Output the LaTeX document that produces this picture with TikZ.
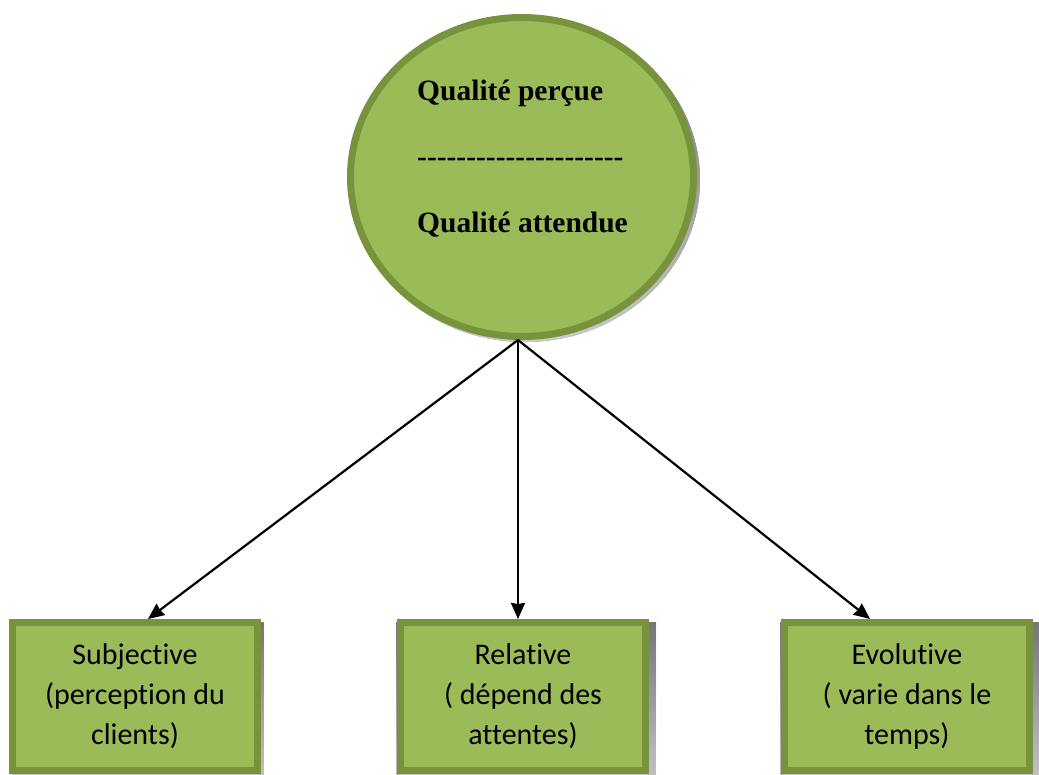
\documentclass[tikz,border=0pt]{standalone}
\usepackage{fontspec}
\setmainfont{Liberation Serif}
\newfontfamily\boxfont[Ligatures=NoCommon]{Carlito}
\usetikzlibrary{arrows.meta,shapes.geometric}
\definecolor{leaf}{HTML}{9BBB59}
\definecolor{leafdark}{HTML}{77933C}
\definecolor{shade}{HTML}{9A9A9A}
\newcommand\hyphenrule[1]{\foreach \k in {1,...,#1}{-}}
\tikzset{
  x=1pt, y=-1pt,
  hub/.style={ellipse, draw=leafdark, fill=leaf, line width=7pt,
    minimum width=343pt, minimum height=319pt, inner sep=0pt},
  leafbox/.style={rectangle, draw=leafdark, fill=leaf, line width=7pt,
    minimum width=245pt, minimum height=148pt, inner sep=0pt,
    align=center, font=\boxfont\fontsize{30}{40}\selectfont},
  hubtext/.style={anchor=base west, inner sep=0pt, font=\bfseries\fontsize{29.5}{34}\selectfont},
  link/.style={draw=black, line width=2.2pt, -{Stealth[length=16pt,width=14pt,inset=1pt]}},
}
\begin{document}
\begin{tikzpicture}
\useasboundingbox (0,0) rectangle (1039,774);
\fill[white] (0,0) rectangle (1039,774);

% soft shadows
\fill[shade, opacity=0.7] (525,180) ellipse [x radius=175pt, y radius=162pt];
\fill[shade, opacity=0.6] (12,622) rectangle (264,776);
\fill[shade, opacity=0.6] (396,622) rectangle (656,776);
\fill[shade, opacity=0.6] (780,622) rectangle (1040,776);

% central quality node
\node[hub] (q) at (522,177) {};
\node[hubtext] (t1) at (417,100) {Qualité perçue};
\node[hubtext] (t2) at (417,166) {\hyphenrule{21}};
\node[hubtext] (t3) at (417,232) {Qualité attendue};

% the three characteristics
\node[leafbox] (s) at (135,696.5) {Subjective\\(perception du\\clients)};
\node[leafbox] (r) at (523,696.5) {Relative\\( dépend des\\attentes)};
\node[leafbox] (e) at (907,696.5) {Evolutive\\( varie dans le\\temps)};

\coordinate (o) at (518,340);
\draw[link] (o) -- (148,619);
\draw[link] (o) -- (518,619);
\draw[link] (o) -- (870,619);
\end{tikzpicture}
\end{document}
